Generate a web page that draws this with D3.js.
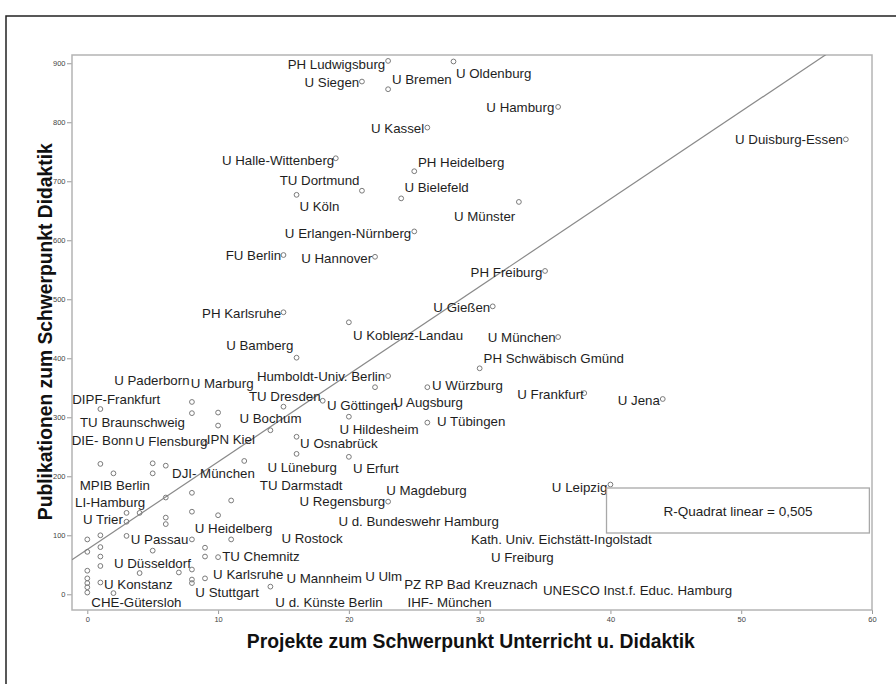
<!DOCTYPE html>
<html><head><meta charset="utf-8">
<script src="https://cdn.jsdelivr.net/npm/d3@7"></script>
<style>
body{margin:0;background:#fff}
svg{display:block}
text{font-family:"Liberation Sans",Arial,Helvetica,sans-serif}
</style>
</head><body>
<svg id="chart" width="896" height="684"></svg>
<script>
// ---------- DATA ----------
const xTickValues = [0, 10, 20, 30, 40, 50, 60];
const yTickValues = [0, 100, 200, 300, 400, 500, 600, 700, 800, 900];
const xTitle = "Projekte zum Schwerpunkt Unterricht u. Didaktik";
const yTitle = "Publikationen zum Schwerpunkt Didaktik";

// x: projects, y: publications (one entry per institution)
const projekte = [23,28,21,23,36,26,19,25,21,16, 24,33,25,22,15,58,35,31,15,20,
  36,16,30,23,22,26,38,44,18,20, 26,16,15,14,8,8,1,10,10,9,
  16,20,12,1,5,6,2,5,40,8, 6,11,23,3,4,8,10,6,6,3,
  1,0,3,8,11,0,1,1,5,9, 9,10,1,0,4,7,8,8,8,9, 0,0,0,0,1,2,14];
const publikationen = [904,903,869,856,826,791,739,717,684,677, 671,665,615,572,575,771,548,488,478,461,
  436,401,383,370,351,351,341,331,328,301, 291,267,318,278,326,307,314,308,286,256,
  238,233,226,221,222,218,205,205,186,172, 164,159,157,138,138,140,134,130,119,123,
  100,93,99,93,93,72,80,64,74,79, 64,63,48,40,36,37,42,25,19,27, 27,19,12,3,20,2,13];

// linear fit (from the reference)
const fitIntercept = 76;
const fitSlope = 14.85;
const rSquaredText = "R-Quadrat linear = 0,505";

// point labels: name, anchor, label position in data units
const labels = [
  ["PH Ludwigsburg","end",22.78,890.3],
  ["U Siegen","end",20.79,859.8],
  ["U Bremen","start",23.29,864.9],
  ["U Oldenburg","start",28.19,875.1],
  ["U Hamburg","end",35.71,816.6],
  ["U Kassel","end",25.76,781.9],
  ["U Halle-Wittenberg","end",18.88,726.8],
  ["PH Heidelberg","start",25.28,724.2],
  ["TU Dortmund","end",20.81,693.7],
  ["U Köln","start",16.22,648.8],
  ["U Bielefeld","start",24.25,681.9],
  ["U Münster","end",32.72,631.9],
  ["U Erlangen-Nürnberg","end",24.77,604.7],
  ["U Hannover","end",21.78,561.5],
  ["FU Berlin","end",14.82,566.6],
  ["U Duisburg-Essen","end",57.78,763.2],
  ["PH Freiburg","end",34.79,538.6],
  ["U Gießen","end",30.81,478.5],
  ["PH Karlsruhe","end",14.82,468.3],
  ["U Koblenz-Landau","start",20.31,431.0],
  ["U München","end",35.82,426.8],
  ["U Bamberg","end",15.76,413.2],
  ["PH Schwäbisch Gmünd","start",30.30,392.0],
  ["Humboldt-Univ. Berlin","end",22.78,361.5],
  ["U Paderborn","end",7.82,354.7],
  ["U Marburg","start",7.91,349.7],
  ["U Würzburg","start",26.35,346.3],
  ["U Frankfurt","end",37.96,331.0],
  ["U Jena","end",43.78,320.8],
  ["DIPF-Frankfurt","start",-1.15,322.5],
  ["TU Dresden","end",17.84,326.8],
  ["U Göttingen","start",18.32,312.4],
  ["U Augsburg","start",23.41,317.5],
  ["TU Braunschweig","start",-0.56,283.6],
  ["U Bochum","start",11.63,290.3],
  ["U Hildesheim","start",19.28,271.7],
  ["U Tübingen","start",26.73,284.4],
  ["DIE- Bonn","start",-1.19,253.1],
  ["U Flensburg","start",3.65,250.5],
  ["IPN Kiel","start",9.14,254.7],
  ["U Osnabrück","start",16.27,248.0],
  ["DJI- München","start",6.48,197.1],
  ["U Lüneburg","start",13.77,207.3],
  ["U Erfurt","start",20.31,205.6],
  ["TU Darmstadt","start",13.19,176.8],
  ["MPIB Berlin","start",-0.58,176.8],
  ["U Magdeburg","start",22.85,168.3],
  ["U Leipzig","end",39.76,174.2],
  ["U Regensburg","end",22.78,149.7],
  ["LI-Hamburg","start",-0.94,148.0],
  ["U Trier","start",-0.33,119.2],
  ["U d. Bundeswehr Hamburg","start",19.20,115.8],
  ["U Heidelberg","start",8.22,104.7],
  ["U Rostock","start",14.84,86.9],
  ["Kath. Univ. Eichstätt-Ingolstadt","start",29.33,85.3],
  ["U Passau","start",3.32,85.3],
  ["TU Chemnitz","start",10.31,55.6],
  ["U Freiburg","start",30.86,54.7],
  ["U Düsseldorf","start",2.04,44.6],
  ["U Karlsruhe","start",9.62,25.9],
  ["U Mannheim","start",15.23,19.2],
  ["U Ulm","start",21.25,22.5],
  ["PZ RP Bad Kreuznach","start",24.23,9.0],
  ["UNESCO Inst.f. Educ. Hamburg","start",34.84,-1.2],
  ["U Konstanz","start",1.28,9.0],
  ["U Stuttgart","start",8.26,-5.4],
  ["CHE-Gütersloh","start",0.31,-20.7],
  ["U d. Künste Berlin","start",14.38,-21.5],
  ["IHF- München","start",24.48,-21.5]
];

// ---------- LAYOUT ----------
const svg = d3.select("#chart");
const plot = {left:72, right:872, top:55, bottom:610};
const x = d3.scaleLinear().domain([-1.17, 60]).range([plot.left, plot.right]);
const y = d3.scaleLinear().domain([-26.6, 914]).range([plot.bottom, plot.top]);

// outer frame
svg.append("rect").attr("x",6).attr("y",16).attr("width",1000).attr("height",1000)
  .attr("fill","none").attr("stroke","#222").attr("stroke-width",1.5);

svg.append("defs").append("clipPath").attr("id","clip")
  .append("rect").attr("x",plot.left).attr("y",plot.top)
  .attr("width",plot.right-plot.left).attr("height",plot.bottom-plot.top);

// axes
const xAxis = d3.axisBottom(x).tickValues(xTickValues).tickSize(4).tickPadding(3);
const yAxis = d3.axisLeft(y).tickValues(yTickValues).tickSize(5).tickPadding(1.5);
const gx = svg.append("g").attr("transform",`translate(0,${plot.bottom})`).call(xAxis);
const gy = svg.append("g").attr("transform",`translate(${plot.left},0)`).call(yAxis);
[gx, gy].forEach(g => {
  g.select(".domain").remove();
  g.selectAll(".tick line").attr("stroke","#999");
  g.selectAll(".tick text").attr("fill","#444").style("font-size","7.5px")
    .style("font-family","'Liberation Sans',Arial,sans-serif");
});

// plot frame
svg.append("rect").attr("x",plot.left).attr("y",plot.top)
  .attr("width",plot.right-plot.left).attr("height",plot.bottom-plot.top)
  .attr("fill","none").attr("stroke","#b4b4b4").attr("stroke-width",1.5);

// fit line
const xd = x.domain();
svg.append("line").attr("clip-path","url(#clip)")
  .attr("x1", x(xd[0])).attr("y1", y(fitIntercept + fitSlope*xd[0]))
  .attr("x2", x(xd[1])).attr("y2", y(fitIntercept + fitSlope*xd[1]))
  .attr("stroke","#8a8a8a").attr("stroke-width",1.2);

// points
svg.append("g").selectAll("circle").data(d3.range(projekte.length)).join("circle")
  .attr("cx", i => x(projekte[i])).attr("cy", i => y(publikationen[i]))
  .attr("r", 2.4).attr("fill","none").attr("stroke","#7a7a7a").attr("stroke-width",1);

// labels
svg.append("g").selectAll("text").data(labels).join("text")
  .attr("x", d => x(d[2])).attr("y", d => y(d[3]))
  .attr("text-anchor", d => d[1])
  .attr("fill","#1e1e1e").style("font-size","13.3px")
  .text(d => d[0]);

// R-squared box
const box = {x1: x(39.7), x2: x(59.8), y1: 488, y2: 533};
svg.append("rect").attr("x",box.x1).attr("y",box.y1)
  .attr("width",box.x2-box.x1).attr("height",box.y2-box.y1)
  .attr("fill","#fff").attr("stroke","#a8a8a8").attr("stroke-width",1.3);
svg.append("text").attr("x",(box.x1+box.x2)/2).attr("y",(box.y1+box.y2)/2+5)
  .attr("text-anchor","middle").attr("fill","#1e1e1e").style("font-size","13.5px")
  .text(rSquaredText);

// axis titles
svg.append("text").attr("x",470.8).attr("y",648).attr("text-anchor","middle")
  .attr("textLength",448).attr("lengthAdjust","spacingAndGlyphs")
  .style("font-size","21px").style("font-weight","bold").attr("fill","#111")
  .text(xTitle);
svg.append("text").attr("transform","translate(51.7,331.7) rotate(-90)")
  .attr("text-anchor","middle")
  .attr("textLength",377).attr("lengthAdjust","spacingAndGlyphs")
  .style("font-size","21px").style("font-weight","bold").attr("fill","#111")
  .text(yTitle);
</script>
</body></html>
